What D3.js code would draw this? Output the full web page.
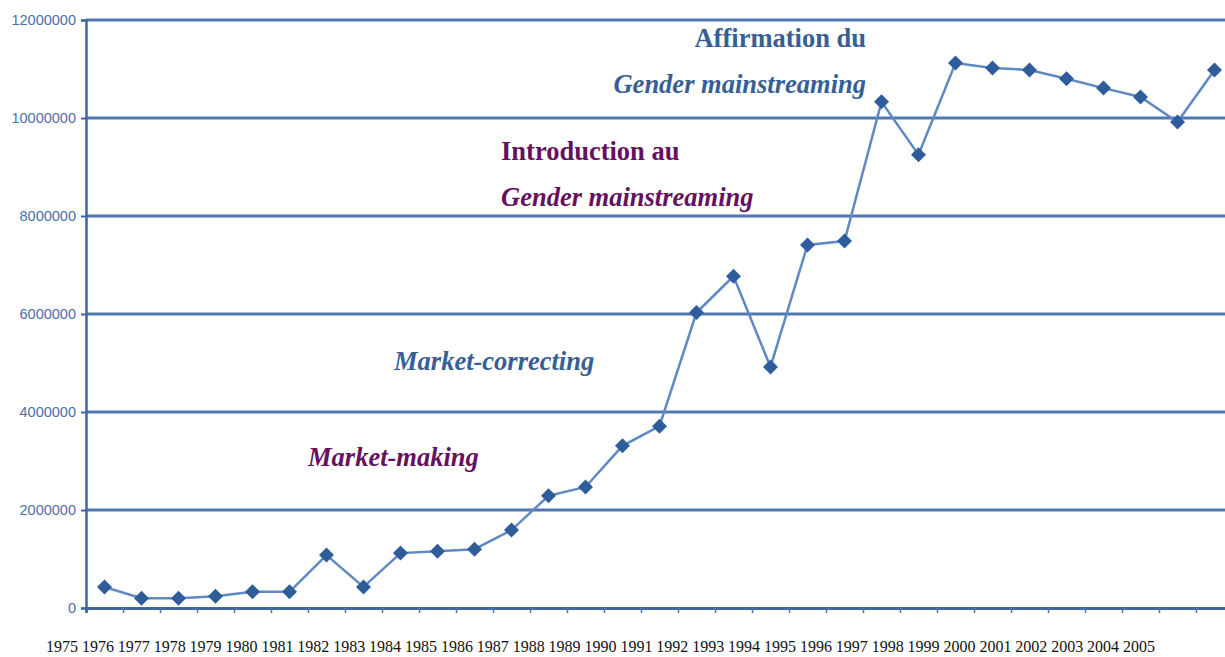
<!DOCTYPE html>
<html>
<head>
<meta charset="utf-8">
<script src="https://cdn.jsdelivr.net/npm/d3@7"></script>
<style>
  body { margin: 0; background: #fff; }
  svg { display: block; }
</style>
</head>
<body>
<script>
// data
var years = d3.range(1975, 2006);
var values = [430000, 200000, 200000, 240000, 330000, 330000, 1080000, 430000,
              1120000, 1160000, 1200000, 1590000, 2290000, 2470000, 3310000, 3710000,
              6030000, 6770000, 4920000, 7410000, 7490000, 10330000, 9250000, 11120000,
              11020000, 10980000, 10800000, 10610000, 10430000, 9920000, 10980000];
var yTicks = [0, 2000000, 4000000, 6000000, 8000000, 10000000, 12000000];

var notes = [
  {text: "Affirmation du", x: 866, y: 47, anchor: "end", italic: false, color: "#375f96"},
  {text: "Gender mainstreaming", x: 866, y: 93, anchor: "end", italic: true, color: "#375f96"},
  {text: "Introduction au", x: 501, y: 160, anchor: "start", italic: false, color: "#66115f"},
  {text: "Gender mainstreaming", x: 501, y: 206, anchor: "start", italic: true, color: "#66115f"},
  {text: "Market-correcting", x: 394, y: 370, anchor: "start", italic: true, color: "#375f96"},
  {text: "Market-making", x: 308, y: 466, anchor: "start", italic: true, color: "#66115f"}
];

var W = 1225, H = 657;
var margin = {left: 86, top: 20, bottom: 49};

var svg = d3.select("body").append("svg")
    .attr("width", W)
    .attr("height", H);

var x = d3.scaleLinear()
    .domain([1974.5, 2005.5])
    .range([margin.left, margin.left + 31 * 37]);

var y = d3.scaleLinear()
    .domain([0, 12000000])
    .range([H - margin.bottom, margin.top]);

// gridlines
svg.append("g")
  .selectAll("line")
  .data(yTicks.filter(d => d > 0))
  .enter().append("line")
    .attr("x1", margin.left)
    .attr("x2", W)
    .attr("y1", d => y(d))
    .attr("y2", d => y(d))
    .attr("stroke", "#5277ae")
    .attr("stroke-width", 2.8);

// y axis
var yAxis = d3.axisLeft(y)
    .tickValues(yTicks)
    .tickFormat(d3.format("d"))
    .tickSize(5)
    .tickPadding(5);

var yg = svg.append("g")
    .attr("transform", "translate(" + margin.left + ",0)")
    .call(yAxis);
yg.select(".domain").attr("stroke", "#3f68a3").attr("stroke-width", 2.5);
yg.selectAll(".tick line").attr("stroke", "#3f68a3").attr("stroke-width", 2);
yg.selectAll("text")
    .attr("fill", "#4b70a8")
    .attr("font-family", "Liberation Sans, Arial, sans-serif")
    .attr("font-size", 14.5);

// x axis (ticks only, between years)
var xAxis = d3.axisBottom(x)
    .tickValues(d3.range(1975.5, 2006.5, 1))
    .tickFormat("")
    .tickSize(5);

var xg = svg.append("g")
    .attr("transform", "translate(0," + y(0) + ")")
    .call(xAxis);
xg.select(".domain").attr("stroke", "#3f68a3").attr("stroke-width", 2.8);
xg.selectAll(".tick line").attr("stroke", "#4f74ab").attr("stroke-width", 1.5);

// series line
var line = d3.line()
    .x((d, i) => x(years[i]))
    .y(d => y(d));

svg.append("path")
    .datum(values)
    .attr("fill", "none")
    .attr("stroke", "#5f89c3")
    .attr("stroke-width", 2.5)
    .attr("d", line);

// diamond markers
svg.append("g")
  .selectAll("path")
  .data(values)
  .enter().append("path")
    .attr("transform", (d, i) => "translate(" + x(years[i]) + "," + y(d) + ")")
    .attr("d", "M0,-7.5L7.5,0L0,7.5L-7.5,0Z")
    .attr("fill", "#2f5c9b");

// year labels under the chart
var labelX = d3.scalePoint()
    .domain(years)
    .range([62, 1139]);

svg.append("g")
  .selectAll("text")
  .data(years)
  .enter().append("text")
    .attr("x", d => labelX(d))
    .attr("y", 652)
    .attr("text-anchor", "middle")
    .attr("font-family", "Liberation Serif, Times New Roman, serif")
    .attr("font-size", 16)
    .attr("fill", "#111")
    .text(d => d);

// annotations
svg.append("g")
  .selectAll("text")
  .data(notes)
  .enter().append("text")
    .attr("x", d => d.x)
    .attr("y", d => d.y)
    .attr("text-anchor", d => d.anchor)
    .attr("font-family", "Liberation Serif, Times New Roman, serif")
    .attr("font-weight", "bold")
    .attr("font-style", d => d.italic ? "italic" : "normal")
    .attr("font-size", 26.5)
    .attr("fill", d => d.color)
    .text(d => d.text);
</script>
</body>
</html>
